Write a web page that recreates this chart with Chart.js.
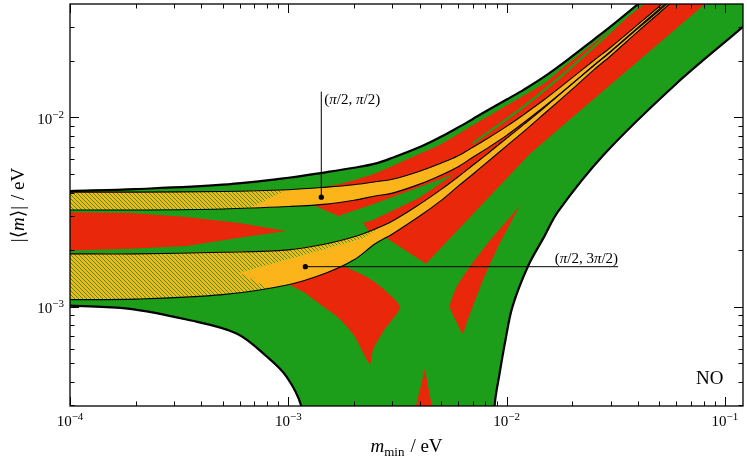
<!DOCTYPE html>
<html>
<head>
<meta charset="utf-8">
<script src="https://cdn.jsdelivr.net/npm/chart.js@4.4.1/dist/chart.umd.min.js"></script>
<style>
  body { margin: 0; background: #fff; }
</style>
</head>
<body>
<canvas id="chart" width="747" height="459"></canvas>
<script>
// m_min grid (eV) for the smooth curves
const mMin = [1e-4, 2e-4, 5e-4, 1e-3, 1.5e-3, 2e-3, 2.5e-3, 3e-3, 4e-3, 5e-3, 6e-3, 7e-3, 8e-3, 1e-2, 1.2e-2, 1.5e-2, 2e-2, 2.5e-2, 3e-2, 4e-2, 5e-2, 7e-2, 0.2];
// outer upper bound
const upperBound = [4.08e-3, 4.18e-3, 4.41e-3, 4.8e-3, 5.14e-3, 5.42e-3, 5.7e-3, 6.12e-3, 6.97e-3, 7.9e-3, 8.86e-3, 9.82e-3, 1.075e-2, 1.244e-2, 1.404e-2, 1.653e-2, 2.108e-2, 2.574e-2, 3.03e-2, 3.98e-2, 4.95e-2, 6.96e-2, 0.2];
// (pi/2, pi/2) band
const band1Top = [4.03e-3, 4.03e-3, 4.06e-3, 4.15e-3, 4.28e-3, 4.41e-3, 4.57e-3, 4.71e-3, 5.2e-3, 5.73e-3, 6.27e-3, 6.95e-3, 7.62e-3, 8.97e-3, 1.037e-2, 1.251e-2, 1.624e-2, 1.995e-2, 2.35e-2, 3.105e-2, 3.86e-2, 5.39e-2, 0.152];
const band1Bottom = [3.24e-3, 3.24e-3, 3.28e-3, 3.38e-3, 3.48e-3, 3.65e-3, 3.84e-3, 3.98e-3, 4.44e-3, 4.95e-3, 5.49e-3, 6.16e-3, 6.78e-3, 8.04e-3, 9.41e-3, 1.15e-2, 1.51e-2, 1.877e-2, 2.226e-2, 2.958e-2, 3.676e-2, 5.14e-2, 0.146];
// (pi/2, 3pi/2) band
const band2Top = [1.9e-3, 1.9e-3, 1.936e-3, 1.995e-3, 2.147e-3, 2.337e-3, 2.574e-3, 2.835e-3, 3.48e-3, 4.155e-3, 4.86e-3, 5.59e-3, 6.3e-3, 7.76e-3, 9.19e-3, 1.135e-2, 1.51e-2, 1.877e-2, 2.24e-2, 2.994e-2, 3.743e-2, 5.26e-2, 0.148];
const band2Bottom = [1.088e-3, 1.095e-3, 1.156e-3, 1.305e-3, 1.51e-3, 1.767e-3, 2.147e-3, 2.422e-3, 3.011e-3, 3.632e-3, 4.333e-3, 5.01e-3, 5.7e-3, 7.08e-3, 8.44e-3, 1.056e-2, 1.412e-2, 1.778e-2, 2.12e-2, 2.852e-2, 3.567e-2, 5.01e-2, 0.142];
// lower bound, left and right branches
const lowLeftX = [1e-4, 1.84e-4, 3.42e-4, 5.79e-4, 7.94e-4, 9.79e-4, 1.146e-3, 1.25e-3];
const lowLeftY = [1.012e-3, 9.76e-4, 8.54e-4, 7.21e-4, 5.46e-4, 4.28e-4, 2.98e-4, 1.5e-4];
const lowRightX = [8.7e-3, 8.81e-3, 9.29e-3, 9.89e-3, 1.064e-2, 1.25e-2, 1.476e-2, 1.726e-2, 2.8e-2, 5.92e-2, 0.1208, 0.2];
const lowRightY = [1.5e-4, 2.98e-4, 4.44e-4, 6.7e-4, 1e-3, 1.625e-3, 2.308e-3, 3.2e-3, 6.39e-3, 1.49e-2, 3.01e-2, 0.05];

// red patches (x, y pairs)
const redLeft = [[9e-5, 3.16e-3], [1.88e-4, 3.12e-3], [3.42e-4, 2.977e-3], [5.97e-4, 2.767e-3], [9.79e-4, 2.512e-3], [5.97e-4, 2.308e-3], [3.42e-4, 2.093e-3], [1.88e-4, 2.019e-3], [9e-5, 1.971e-3]];
const redTopEdge = [[1.3e-3, 4.23e-3], [1.71e-3, 4.44e-3], [2.444e-3, 5.01e-3], [3.35e-3, 5.87e-3], [5e-3, 7.21e-3], [7e-3, 9.08e-3], [1e-2, 1.156e-2], [1.5e-2, 1.528e-2], [1.746e-2, 1.767e-2], [2.63e-2, 2.574e-2], [4e-2, 3.743e-2], [5e-2, 4.61e-2], [0.2, 0.185]];
const redBetweenLeft = [[2.344e-3, 2.5e-3], [2.2e-3, 2.767e-3], [1.692e-3, 3.011e-3], [1.3e-3, 3.44e-3]];
const greenWedge = [[1.692e-3, 3.011e-3], [2.444e-3, 3.48e-3], [3.96e-3, 4.28e-3], [5.73e-3, 5.01e-3], [3.96e-3, 3.75e-3], [2.444e-3, 2.87e-3], [2.2e-3, 2.767e-3]];
const redWedgeEdge = [[2.8e-3, 2.31e-3], [4.27e-3, 1.684e-3], [7.37e-3, 3.28e-3], [1.274e-2, 6.38e-3], [1.727e-2, 8.65e-3], [8.1e-2, 3.98e-2], [0.2, 0.1]];
const redLow = [[1.011e-3, 1.305e-3], [1.247e-3, 1.4e-3], [1.656e-3, 1.585e-3], [1.8e-3, 1.624e-3], [2.444e-3, 1.37e-3], [3.245e-3, 1e-3], [2.744e-3, 7.48e-4], [2.444e-3, 5.94e-4], [2.368e-3, 4.95e-4], [2e-3, 7.04e-4], [1.71e-3, 8.65e-4], [1.445e-3, 1e-3], [1.183e-3, 1.185e-3]];
const redCrescent = [[1.147e-2, 3.4e-3], [9.29e-3, 2.147e-3], [8.28e-3, 1.624e-3], [7.77e-3, 1.37e-3], [7e-3, 1e-3], [6.57e-3, 8.24e-4], [6.3e-3, 7.21e-4], [5.85e-3, 8.44e-4], [5.49e-3, 1e-3], [5.91e-3, 1.275e-3], [6.78e-3, 1.624e-3], [8.36e-3, 2.226e-3]];
const redSpike = [[4.22e-3, 4.71e-4], [4.4e-3, 3.61e-4], [4.55e-3, 2.98e-4], [4.69e-3, 2.51e-4], [3.72e-3, 2.51e-4], [3.84e-3, 2.98e-4], [4.0e-3, 3.61e-4]];
const greenStreak = [[7e-3, 7.3e-3], [1.147e-2, 1.101e-2], [1.746e-2, 1.624e-2], [2.63e-2, 2.48e-2], [4.13e-2, 4.03e-2], [4.94e-2, 4.78e-2]];
// hatched (overlap) parts of the bands
const hatch1 = [[1e-4, 4.03e-3], [2e-4, 4.03e-3], [5e-4, 4.06e-3], [9.8e-4, 4.15e-3], [6.64e-4, 3.31e-3], [5e-4, 3.28e-3], [2e-4, 3.24e-3], [1e-4, 3.24e-3]];
const hatch2 = [[1e-4, 1.9e-3], [2e-4, 1.9e-3], [5e-4, 1.936e-3], [1e-3, 1.995e-3], [1.5e-3, 2.147e-3], [2e-3, 2.337e-3], [2.5e-3, 2.574e-3], [2.8e-3, 2.73e-3], [2.2e-3, 2.3e-3], [5.97e-4, 1.51e-3], [8.19e-4, 1.245e-3], [5e-4, 1.156e-3], [2e-4, 1.095e-3], [1e-4, 1.088e-3]];
// marked points and their labels
const markX = [1.416e-3, 1.197e-3];
const markY = [3.79e-3, 1.625e-3];
const markLabels = [['(', 'π', '/2, ', 'π', '/2)'], ['(', 'π', '/2, 3', 'π', '/2)']];
const xDecades = [1e-4, 1e-3, 1e-2, 1e-1];
const xDecadeExp = ['−4', '−3', '−2', '−1'];
const yDecades = [1e-3, 1e-2];
const yDecadeExp = ['−3', '−2'];

const GREEN = '#1c9e1a', RED = '#e9280b', ORANGE = '#fbb41a';
const SERIF = '"Liberation Serif", "DejaVu Serif", serif';
const SMOOTH = 0.35;

const pts = (xs, ys) => xs.map((x, i) => ({x, y: ys[i]}));
const poly = pairs => pairs.map(([x, y]) => ({x, y}));
const rev = a => a.slice().reverse();

const canvas = document.getElementById('chart');
const ctx0 = canvas.getContext('2d');

function makeHatch() {
  const c = document.createElement('canvas');
  c.width = 4; c.height = 4;
  const g = c.getContext('2d');
  g.fillStyle = ORANGE;
  g.fillRect(0, 0, 4, 4);
  g.strokeStyle = GREEN;
  g.lineWidth = 0.95;
  g.beginPath();
  g.moveTo(-1, -1); g.lineTo(5, 5);
  g.moveTo(-1, 3); g.lineTo(1, 5);
  g.moveTo(3, -1); g.lineTo(5, 1);
  g.stroke();
  return ctx0.createPattern(c, 'repeat');
}
const hatch = makeHatch();

function area(data, color, tension) {
  return {data, showLine: true, fill: 'shape', backgroundColor: color, borderColor: 'transparent', borderWidth: 0, pointRadius: 0, clip: 0, tension: tension || 0};
}
function curve(data, color, width, tension) {
  return {data, showLine: true, fill: false, borderColor: color, borderWidth: width, pointRadius: 0, clip: 0, tension: tension || 0};
}

const upper = pts(mMin, upperBound);
const b1t = pts(mMin, band1Top), b1b = pts(mMin, band1Bottom);
const b2t = pts(mMin, band2Top), b2b = pts(mMin, band2Bottom);
const lowL = pts(lowLeftX, lowLeftY), lowR = pts(lowRightX, lowRightY);

// layers from bottom to top
const layers = [
  area(upper.concat(rev(lowR), rev(lowL)), GREEN, SMOOTH),
  area(poly(redLeft), RED),
  area(poly(redTopEdge).concat(rev(b1t.filter(p => p.x > 1.3e-3))), RED, 0.2),
  area(b1b.filter(p => p.x > 1.3e-3).concat(rev(b2t.filter(p => p.x > 2.4e-3)), poly(redBetweenLeft)), RED),
  area(poly(greenWedge), GREEN),
  area(poly(redWedgeEdge).concat(rev(b2b.filter(p => p.x > 2.8e-3))), RED),
  area(poly(redLow), RED, 0.2),
  area(poly(redCrescent), RED, 0.2),
  area(poly(redSpike), RED),
  curve(poly(greenStreak), GREEN, 2.2, SMOOTH),
  area(b1t.concat(rev(b1b)), ORANGE, SMOOTH),
  area(b2t.concat(rev(b2b)), ORANGE, SMOOTH),
  area(poly(hatch1), hatch),
  area(poly(hatch2), hatch),
  curve(b1t, '#000', 1.1, SMOOTH),
  curve(b1b, '#000', 1.1, SMOOTH),
  curve(b2t, '#000', 1.1, SMOOTH),
  curve(b2b, '#000', 1.1, SMOOTH),
  curve(upper, '#000', 2.2, SMOOTH),
  curve(lowL, '#000', 2.2, SMOOTH),
  curve(lowR, '#000', 2.2, SMOOTH),
  curve([{x: markX[0], y: markY[0]}, {x: markX[0], y: 0.0137}], '#000', 1),
  curve([{x: markX[1], y: markY[1]}, {x: 0.0324, y: markY[1]}], '#000', 1),
  {data: pts(markX, markY), showLine: false, pointRadius: 2.6, pointBackgroundColor: '#000', pointBorderWidth: 0}
];
layers.forEach((d, i) => { d.order = layers.length - i; });

function drawRich(ctx, parts, x, y, align) {
  let w = 0;
  parts.forEach(p => { ctx.font = p[1]; w += ctx.measureText(p[0]).width + (p[3] || 0); });
  let cx = align === 'center' ? x - w / 2 : align === 'right' ? x - w : x;
  parts.forEach(p => {
    ctx.font = p[1];
    ctx.fillText(p[0], cx, y + (p[2] || 0));
    cx += ctx.measureText(p[0]).width + (p[3] || 0);
  });
}

const decor = {
  id: 'decor',
  afterDatasetsDraw(chart) {
    const {ctx, chartArea: a, scales: {x, y}} = chart;
    ctx.save();
    ctx.strokeStyle = '#000';
    ctx.lineWidth = 1;
    ctx.beginPath();
    for (let e = -4; e <= -1; e++) {
      for (let k = 1; k <= 9; k++) {
        const v = k * Math.pow(10, e);
        if (v < x.min * 0.999 || v > x.max) continue;
        const p = Math.round(x.getPixelForValue(v)) + 0.5;
        const len = k === 1 ? 9 : 4.5;
        ctx.moveTo(p, a.bottom); ctx.lineTo(p, a.bottom - len);
        ctx.moveTo(p, a.top); ctx.lineTo(p, a.top + len);
      }
    }
    for (let e = -4; e <= -2; e++) {
      for (let k = 1; k <= 9; k++) {
        const v = k * Math.pow(10, e);
        if (v < y.min || v > y.max) continue;
        const p = Math.round(y.getPixelForValue(v)) + 0.5;
        const len = k === 1 ? 9 : 4.5;
        ctx.moveTo(a.left, p); ctx.lineTo(a.left + len, p);
        ctx.moveTo(a.right, p); ctx.lineTo(a.right - len, p);
      }
    }
    ctx.stroke();
    ctx.lineWidth = 1.3;
    ctx.strokeRect(a.left, a.top, a.right - a.left, a.bottom - a.top);

    ctx.fillStyle = '#000';
    ctx.textAlign = 'left';
    ctx.textBaseline = 'alphabetic';
    const big = '15px ' + SERIF, small = '11px ' + SERIF;
    xDecades.forEach((v, i) => {
      drawRich(ctx, [['10', big], [xDecadeExp[i], small, -6]], x.getPixelForValue(v), a.bottom + 20, 'center');
    });
    yDecades.forEach((v, i) => {
      drawRich(ctx, [['10', big], [yDecadeExp[i], small, -6]], a.left - 6, y.getPixelForValue(v) + 6.5, 'right');
    });

    // axis titles
    drawRich(ctx, [['m', 'italic 19px ' + SERIF], ['min', '13px ' + SERIF, 4, 6], ['/ eV', '19px ' + SERIF]], (a.left + a.right) / 2, 452, 'center');
    ctx.save();
    ctx.translate(18, (a.top + a.bottom) / 2);
    ctx.rotate(-Math.PI / 2);
    drawRich(ctx, [['|⟨', '19px ' + SERIF], ['m', 'italic 19px ' + SERIF], ['⟩|', '19px ' + SERIF, 0, 6], ['/ eV', '19px ' + SERIF]], 0, 6, 'center');
    ctx.restore();

    // labels of the marked points
    const lab = t => t.map((s, i) => [s, (i % 2 ? 'italic ' : '') + '15px ' + SERIF]);
    drawRich(ctx, lab(markLabels[0]), x.getPixelForValue(markX[0]) + 3, y.getPixelForValue(0.0137) + 12, 'left');
    drawRich(ctx, lab(markLabels[1]), x.getPixelForValue(0.0324), y.getPixelForValue(markY[1]) - 4, 'right');

    ctx.font = '19px ' + SERIF;
    ctx.fillText('NO', a.right - 47, a.bottom - 22);
    ctx.restore();
  }
};

new Chart(canvas, {
  type: 'scatter',
  data: {datasets: layers},
  options: {
    responsive: false,
    animation: false,
    layout: {padding: {left: 70, right: 2, top: 2, bottom: 53}},
    plugins: {legend: {display: false}, tooltip: {enabled: false}},
    elements: {line: {capBezierPoints: false}},
    scales: {
      x: {type: 'logarithmic', min: 1e-4, max: 0.121, display: false},
      y: {type: 'logarithmic', min: 2.98e-4, max: 0.0398, display: false}
    }
  },
  plugins: [decor]
});
</script>
</body>
</html>
